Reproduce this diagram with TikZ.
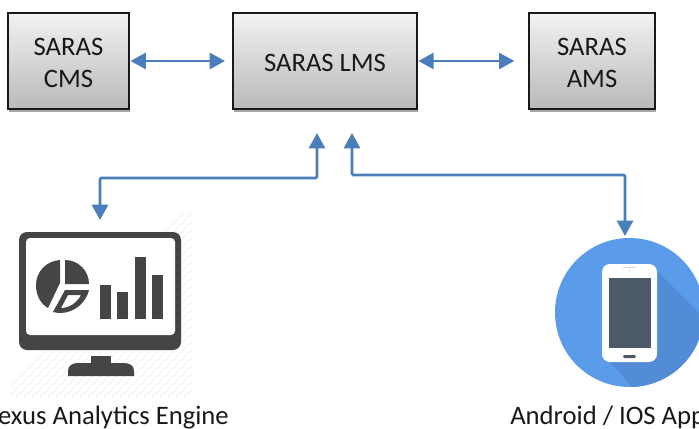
\documentclass[tikz,border=0pt]{standalone}
\usepackage{fontspec}
\setmainfont{Carlito}
\usetikzlibrary{arrows.meta,shadows,calc}
\definecolor{linkblue}{HTML}{4A7EBB}
\definecolor{icongray}{HTML}{454545}
\definecolor{discblue}{HTML}{5A9BEA}
\definecolor{discshade}{HTML}{528CD6}
\definecolor{screenslate}{HTML}{4D5B69}
\definecolor{hatchgray}{HTML}{F5F5F5}
\tikzset{
  px/.style={x=0.75pt,y=-0.75pt},
  sysbox/.style={draw=black!90,line width=1.5pt,top color=gray!10,bottom color=gray!55,
    align=center,inner sep=0pt,outer sep=0pt,font=\fontsize{20pt}{24pt}\selectfont,text=black!90,
    drop shadow={shadow xshift=0.6pt,shadow yshift=-2pt,opacity=0.35,fill=black}},
  link/.style={draw=linkblue,line width=2pt,{Triangle[length=11.5pt,width=12pt]}-{Triangle[length=11.5pt,width=12pt]},rounded corners=1pt},
  caption/.style={font=\fontsize{20pt}{24pt}\selectfont,inner sep=0pt,text=black!90},
  iconfill/.style={fill=icongray,draw=none},
  blank/.style={fill=white,draw=none},
}
\begin{document}
\begin{tikzpicture}[px]
\useasboundingbox (0,0) rectangle (699,428);
% boxes
\node[sysbox,minimum width=90.75pt,minimum height=72pt] (cms) at (68.5,61) {\rule{0pt}{15.5pt}SARAS\\CMS};
\node[sysbox,minimum width=138pt,minimum height=72pt] (lms) at (325,61) {\rule{0pt}{15.5pt}SARAS LMS};
\node[sysbox,minimum width=94.5pt,minimum height=72pt] (ams) at (592,61) {\rule{0pt}{15.5pt}SARAS\\AMS};
% analytics icon
\begin{scope}
  \clip (10,213) rectangle (192,397);
  \foreach \k in {0,8,...,376}{
    \draw[hatchgray,line width=0.9pt] (\k,397) -- ++(190,-190);
  }
\end{scope}
\fill[iconfill,rounded corners=6pt] (19,232) rectangle (181,350);
\fill[blank,rounded corners=3pt] (26,238) rectangle (175,335);
\fill[iconfill] (91,356) rectangle (111,365);
\fill[iconfill] (68,376) -- (68,371) .. controls (68,366) and (72,363) .. (78,363) -- (124,363) .. controls (130,363) and (134,366) .. (134,371) -- (134,376) -- cycle;
\fill[iconfill] (100,285) rectangle (111,319);
\fill[iconfill] (117,292) rectangle (128,319);
\fill[iconfill] (135,257) rectangle (146,319);
\fill[iconfill] (152,275) rectangle (163,319);
% pie
\fill[iconfill] (65,284) -- (65,260) arc[start angle=-90,end angle=0,radius=24] -- cycle;
\fill[iconfill] (60,260) .. controls (46,261) and (36,272) .. (36,285) .. controls (36,296) and (41,304) .. (48,308) -- (60,283) -- cycle;
\fill[iconfill,even odd rule] (65,290) -- (89,290) .. controls (86,303) and (74,313) .. (60,313) .. controls (58,313) and (55,312.5) .. (53,312) -- cycle
  (68,295) -- (61,308) .. controls (69,308) and (77,303) .. (81,295) -- cycle;
% phone icon
\begin{scope}
  \clip (0,0) rectangle (699,428);
  \fill[discblue] (629.5,312.5) circle[radius=74.5];
  \clip (629.5,312.5) circle[radius=74.5];
  \fill[discshade] (655,269) -- (720,334) -- (720,400) -- (635,390) -- (608,360) -- cycle;
\end{scope}
\fill[white,rounded corners=6pt] (602,264) rectangle (657,362);
\fill[screenslate] (609,278) rectangle (651,348);
\fill[screenslate,rounded corners=1pt] (623,355) rectangle (636,358);
\fill[gray!30] (623,266.5) rectangle (636,267.5);
\fill[gray!30] (629.5,270.5) circle[radius=0.8];
% icon anchors
\coordinate (nexus) at (100,220);
\coordinate (app) at (625,236);
\coordinate (lmsl) at (317,133);
\coordinate (lmsr) at (352,133);
% connectors
\draw[link,shorten >=6pt] (cms.east) ++(1.5,0) coordinate (cmsout) (cmsout) -- (lms.west);
\draw[link,shorten <=1pt,shorten >=11pt] (lms.east) -- (ams.west);
\draw[link] (lmsl) -- (lmsl |- 0,178) -- (nexus |- 0,178) -- (nexus);
\draw[link] (lmsr) -- (lmsr |- 0,175) -- (app |- 0,175) -- (app);
% captions
\node[caption,anchor=base east] (nexuslabel) at (229,424) {Nexus Analytics Engine};
\node[caption,anchor=base west] (applabel) at (510,424) {Android / IOS App};
\end{tikzpicture}
\end{document}
